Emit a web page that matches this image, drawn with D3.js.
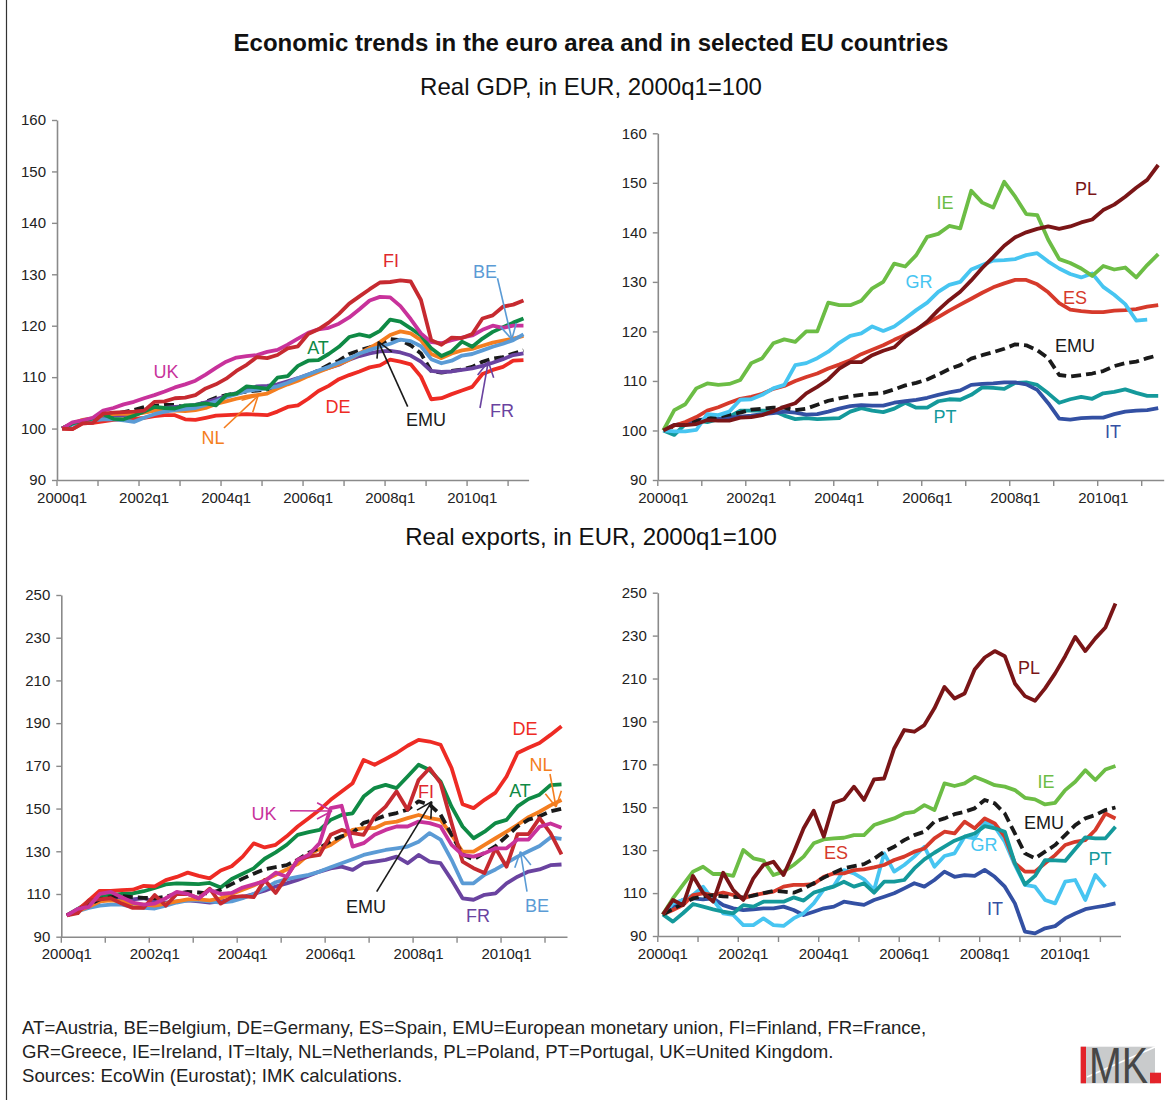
<!DOCTYPE html>
<html><head><meta charset="utf-8">
<script src="https://cdn.jsdelivr.net/npm/d3@7"></script>
<style>body{margin:0;background:#fff}svg text{font-family:"Liberation Sans",Arial,sans-serif}</style>
</head><body><svg id="c" width="1171" height="1100"></svg>
<script>
const quarters = ["2000q1","2000q2","2000q3","2000q4","2001q1","2001q2","2001q3","2001q4","2002q1","2002q2","2002q3","2002q4","2003q1","2003q2","2003q3","2003q4","2004q1","2004q2","2004q3","2004q4","2005q1","2005q2","2005q3","2005q4","2006q1","2006q2","2006q3","2006q4","2007q1","2007q2","2007q3","2007q4","2008q1","2008q2","2008q3","2008q4","2009q1","2009q2","2009q3","2009q4","2010q1","2010q2","2010q3","2010q4","2011q1","2011q2"];
const xTickLabels = ["2000q1","2002q1","2004q1","2006q1","2008q1","2010q1"];
const gdpTicks = [90,100,110,120,130,140,150,160];
const expTicks = [90,110,130,150,170,190,210,230,250];

// Real GDP, 2000q1=100
const gdpFI = [100,99.9,101,101.1, 102.9,103.1,103.2,103.3, 103.5,105.2,105.3,105.9, 106,106.5,107.8,108.6, 109.7,111.2,112.4,113.9, 113.7,114.3,115.6,116, 118.4,119.3,120.6,122.3, 124.3,125.7,127.1,128.4, 128.5,128.8,128.6,125, 117.2,116.3,117.7,117.6, 118.4,121.4,122,123.7, 124.1,124.9];
const gdpUK = [100,101.2,101.6,102.1, 103.5,104,104.7,105.2, 105.9,106.5,107.2,108, 108.6,109.3,110.5,111.8, 113,113.8,114.1,114.3, 114.9,115.3,116.3,117.5, 118.6,119.3,119.6,120.4, 121.6,123.2,124.9,125.6, 125.5,123.8,121.3,118.5, 116.8,116.6,117.2,117.7, 118.1,119.2,120,119.6, 120,120];
const gdpAT = [100,101,101.5,102, 102.8,101.9,101.8,102.5, 103.3,104.2,104,103.9, 104.5,104.6,104.9,104.5, 106.5,106.8,108.2,108, 107.7,109.9,110.2,112.2, 113.2,113.3,114.5,115.9, 117.8,118.3,117.9,119, 121.2,120.8,119.5,118.1, 115.6,114.1,115,116.9, 115.9,117.5,118.8,119.7, 120.6,121.4];
const gdpNL = [100,101,101.7,102, 102.6,102.8,102.9,102.8, 103.1,103.5,103.6,103.5, 103.4,103.6,104,104.8, 105.3,105.8,106.2,106.5, 106.8,107.8,108.6,109.3, 110.2,111,111.8,112.5, 113.4,114.6,115.7,116.8, 118.2,118.9,118.5,117.2, 114.5,113.7,114.6,115.2, 115.5,116.1,116.7,117.1, 117.5,118];
const gdpBE = [100,100.8,101.3,101.6, 101.8,101.8,101.6,101.3, 102.1,102.8,103.3,103.6, 103.8,104,104.6,105.3, 106.1,106.7,107.3,107.6, 107.8,108.2,108.9,109.8, 110.5,111.3,112,112.8, 113.6,114.6,115.3,115.9, 116.5,117.3,117,116, 113.5,112.7,113.2,114.2, 114.5,115.2,115.9,116.5, 117.2,118.3];
const gdpEMU = [100,100.9,101.4,101.9, 102.4,102.8,103.2,103.6, 104.2,104.4,104.6,104.6, 104.1,104.4,105.2,106, 106.5,106.9,107.2,107.4, 107.6,108.3,109.1,109.6, 110.3,111.3,112.4,113.2, 114.5,115.2,115.8,116.5, 117.4,117.2,116.2,114.6, 111.2,110.9,111.2,111.5, 112,113,113.6,113.9, 114.6,115.2];
const gdpFR = [100,100.9,101.4,101.8, 102.3,102.5,102.6,102.7, 103.2,103.6,104,104.2, 104.3,104.6,105.1,105.7, 106.3,106.9,107.6,108.2, 108.3,108.6,109.2,109.8, 110.5,111.2,111.8,112.4, 113.4,114.1,114.6,115, 115.1,114.8,114.2,113, 111.2,111,111.1,111.4, 111.7,112.2,112.8,113.5, 114.3,114.6];
const gdpDE = [100,99.9,101,101.1, 101.4,101.7,101.8,101.9, 102.1,102.4,102.6,102.6, 101.8,101.7,102.1,102.5, 102.6,102.7,102.8,102.7, 102.6,103.3,104.2,104.5, 105.8,107.3,108.3,109.6, 110.4,111.1,111.9,112.3, 113.4,113,112.5,110.1, 105.7,105.9,106.7,107.4, 108.1,110.6,111.4,112, 113.2,113.3];
const gdpIE = [100,104.1,105.3,108.5, 109.5,109.2,109.4,110.2, 113.6,114.6,117.6,118.4, 117.9,120,120,125.8, 125.3,125.3,126.2,128.7, 130,133.7,133.1,135.4, 139.1,139.7,141.3,140.8, 148.4,146,145,150.2, 147.2,143.7,143.5,138.5, 134.6,133.8,132.7,131.2, 133.2,132.5,132.9,130.9, 133.4,135.6];
const gdpPL = [100,101.1,101.1,101.3, 102.1,102,102,102.6, 102.7,103.1,103.9,104.8, 105.5,107.5,108.8,110.3, 112.5,113.8,113.8,115.2, 116.1,116.8,118.9,120.3, 122,124.3,126.3,128, 130.3,132.8,135,137.3, 139,140,140.7,141.2, 140.7,141.2,142,142.6, 144.5,145.6,147.2,149, 150.6,153.6];
const gdpGR = [100,99.8,99.8,100.1, 103.3,103.1,103.8,106.2, 106.3,107.2,108.5,109.2, 113.2,113.6,114.6,115.9, 117.7,119.1,119.6,121, 120.1,121,122.6,124.3, 125.8,128,129.4,130, 132.5,133.4,134.3,134.4, 134.6,135.4,135.8,134.1, 132.7,131.6,130.9,131.7, 129,127.4,125.5,122.2, 122.4,null];
const gdpES = [100,101,101.7,102.7, 104,104.7,105.6,106.4, 106.8,107.4,108.4,109, 110,110.8,111.5,112.5, 113.3,114.2,115.4,116.3, 117.2,118.3,119.3,120.4, 121.7,122.9,124.2,125.4, 126.6,127.8,128.9,129.7, 130.4,130.4,129.5,127.9, 125.7,124.4,124.1,123.9, 123.9,124.2,124.3,124.5, 125,125.3];
const gdpIT = [100,101.1,101.5,102.1, 102.3,102.3,102.6,102.8, 103,103.3,103.5,103.8, 103.6,103.2,103.3,103.8, 104.4,104.9,105.1,105, 105,105.6,105.9,106.2, 106.6,107.2,107.7,108.1, 109.2,109.4,109.5,109.7, 109.7,109.3,108.2,105.5, 102.4,102.2,102.5,102.6, 102.6,103.3,103.8,104, 104.1,104.5];
const gdpPT = [100,99.1,101.3,102, 101.7,102.3,102.8,104, 104,104,104,103, 102.3,102.5,102.3,102.4, 102.5,103.8,104.5,104, 103.7,104.4,105.6,104.6, 104.6,105.9,106.3,106.2, 107.2,108.7,108.6,108.4, 109.6,109.7,109.2,107.5, 105.6,106.3,106.8,106.4, 107.5,107.8,108.3,107.6, 107,107];

// Real exports, 2000q1=100
const expDE = [100,102.5,107,111.5, 111.5,111.8,112,113.8, 113.6,116.5,118,120, 118.5,117.3,121,123, 127.5,133.7,131.8,133, 137,141.6,145.5,149.4, 154.1,158,161.9,172.8, 170.5,173.2,176,179.4, 182.2,181.4,179.9,169, 152,150.2,154.1,157.5, 165,176,178.5,180.7, 184.5,188.5];
const expAT = [100,103,106,108.5, 109.5,110,110.3,111.3, 112.8,114.5,115,114.8, 114.6,115.2,113,117, 119.5,122,126.5,129.5, 133,137.7,139,140, 144.7,147,147.8,155.6, 159.6,161.1,159.6,165, 170.5,168.1,162.7,150.9, 141.6,136.1,139.2,143.2, 144.7,151,154.5,156.5, 161,161.3];
const expNL = [100,102,104,106.5, 107,106.5,105.5,105, 104.5,105.5,106.5,107.5, 107.5,107,108,110, 112,114,116.5,119, 121.5,124,128.5,131, 133,136.5,140,140.8, 140.8,143.2,143.9,145.5, 147,145.5,144.7,137.7, 129.8,129.8,133,136.1, 139.2,142.4,146,148.5, 151.5,154];
const expFI = [100,101,107,107.5, 108,105.5,103.5,103.5, 109.5,104.5,110,110, 108,112.5,105.5,108.5, 109,108.5,116.5,110.5, 118.1,126,127.5,128.3, 137.7,140,138.5,137.7, 146.3,150.9,158,149.4, 163.4,168.9,161.9,143.2, 125.2,122.1,119.8,131.4, 122.8,138,138,145.5, 138.5,128.5];
const expUK = [100,103,104,110, 111,108.5,106,105, 105.5,108,111,110, 108,112,110,110.5, 113,114.5,116,120, 118.1,126,128.3,133.8, 150.2,151.3,132.2,133.8, 137.7,140,141.6,141.6, 143.9,143.2,141.6,133, 128.3,127.5,129.1,131.4, 131.4,135.5,135.5,141.5, 143,141];
const expEMU = [100,102.6,105,107.5, 108.5,109,108.5,108.2, 108,108.8,110,111, 110.7,110.2,112,114.6, 117.2,119.5,121.6,122.6, 123.5,126,129.3,131.6, 134.7,137,138.6,143.3, 144.8,146.8,147.9,149.5, 153.4,151.8,147.1,137.8, 128.5,126.2,129.3,132.4, 137,141.7,144.8,146.4, 148.7,149.9];
const expBE = [100,102,103.5,104.5, 105,105,104,103.5, 103.2,104.5,106,107, 107,106.5,106,106.5, 108,110,112.5,115.5, 117,118,119,120.5, 122.5,124.4,126.3,128.3, 129.5,130.6,131.4,132.2, 134.5,138.5,135.5,126, 115,115,119,121.5, 124.5,127.5,130,132.5, 136.5,135.8];
const expFR = [100,102.5,104,106.5, 108,108,107.5,108, 106.5,106,106.5,107, 106.5,106,106.5,107.5, 108.5,110,111.5,113.5, 115,116.6,118.5,120.5, 122,122.8,121.3,124.4, 125.2,126,127.5,124.4, 128.3,125.2,124.4,116.6, 108,107.3,109.6,110.3, 115,118.1,120.5,121.5, 123.5,123.8];
const expPL = [100,106.8,104.4,118, 110.2,106,119.5,111.4, 106.8,116.9,123.1,124.6, 118.4,128.8,140.2,148.4, 136.3,152.1,153.7,159.6, 153.4,163,163.4,177.4, 186,185.2,188.3,196.1, 206.1,200.7,203,214.2, 219.8,222.8,220.4,207.7, 201.8,199.6,205.4,212.4, 220.4,229.4,222.8,228.7, 233.8,245];
const expIE = [100,107.5,113.8,120, 122.3,118.9,118.9,118, 130.1,126.2,125.1,118.4, 120,123.1,127,133.2, 135,135.5,135.8,137, 137,141.7,143.3,144.8, 147.1,147.9,151,148.7, 161.1,159.9,161.1,164.2, 162.4,160.3,159.6,158, 154.4,153.7,151.3,152.1, 158,161.9,167.3,162.7, 167.6,169.2];
const expES = [100,102.1,104.4,109.1, 109.9,109.1,110.2,109.1, 107.5,109.1,109.9,110.7, 113,113.8,113.8,114.2, 117.6,119.2,119.2,120.7, 121.1,122,123.1,125.4, 127,129.3,130.8,135.5, 138.6,137.8,143.3,140.2, 144.8,142.5,136.3,123.9, 120,120,123.9,127.7, 132.4,133.9,134.7,139.4, 147.1,144.8];
const expGR = [100,105.2,106.8,109.1, 113,106.8,100.6,99.8, 95.1,95.1,98.2,95.1, 94.7,98.2,100.6,105.2, 111.7,113.3,120.7,119.2, 116.4,111.4,128.5,120, 123.1,127,131.6,122.3, 127.3,128.5,136.3,135.5, 143.3,140.9,133.9,123.1, 113.8,113,106.8,105.2, 115.3,116.1,106.8,118.4, 113,null];
const expPT = [100,96.7,100.6,104.9, 103.7,102.4,101.3,100.6, 104.4,103.7,106,106, 106,108,106.5,110.2, 111.7,113,115.3,113, 114.5,110.2,115.3,115.3, 116.1,121.5,125.7,128.8, 131.6,134.4,136.3,137.8, 141.2,140.2,138.6,123.9, 114,118,125.4,125.2, 125,130.5,136,135.5, 135.5,140.9];
const expIT = [100,103.7,106.8,107.5, 107.1,107.5,104.4,102.9, 102.1,102.4,102.9,102.9, 103.7,102.1,99.8,101.3, 102.9,103.7,106,105.2, 104.5,106.8,108.3,109.9, 112.2,114.6,113,116.1, 120,117.6,118.4,118, 120.8,117.6,113,105.2, 92,91.2,93.6,94.6, 98.2,100.5,102.5,103.4, 104.2,105.2];

const col = {FI:"#C62A30",DE:"#EE2B24",UK:"#C8329B",AT:"#0F8A45",NL:"#F47E20",BE:"#5B9BD5",FR:"#6A43A0",EMU:"#1A1A1A",
             IE:"#6CBD45",PL:"#7A1517",GR:"#47C5F1",ES:"#D63A2B",IT:"#3350A3",PT:"#14999B"};
const labCol = Object.assign({}, col, {FI:"#E0282D"});

const svg = d3.select("#c");
svg.append("rect").attr("width",1171).attr("height",1100).attr("fill","#fff");
svg.append("line").attr("x1",6.5).attr("x2",6.5).attr("y1",0).attr("y2",1100).attr("stroke","#333").attr("stroke-width",1.2);

svg.append("text").attr("x",591).attr("y",51).attr("text-anchor","middle").attr("font-size",24).attr("font-weight","bold").attr("fill","#111")
  .text("Economic trends in the euro area and in selected EU countries");
svg.append("text").attr("x",591).attr("y",95).attr("text-anchor","middle").attr("font-size",24).attr("fill","#111")
  .text("Real GDP, in EUR, 2000q1=100");
svg.append("text").attr("x",591).attr("y",545).attr("text-anchor","middle").attr("font-size",24).attr("fill","#111")
  .text("Real exports, in EUR, 2000q1=100");

function arrow(g, x1, y1, x2, y2, c) {
  g.append("line").attr("x1",x1).attr("y1",y1).attr("x2",x2).attr("y2",y2).attr("stroke",c).attr("stroke-width",1.6);
  const a = Math.atan2(y1 - y2, x1 - x2), L = 17, h = 0.5;
  [a - h, a + h].forEach(b => g.append("line").attr("x1",x2).attr("y1",y2)
    .attr("x2",x2 + L*Math.cos(b)).attr("y2",y2 + L*Math.sin(b)).attr("stroke",c).attr("stroke-width",1.6));
}

function panel(cfg) {
  const g = svg.append("g");
  const x = d3.scaleBand().domain(quarters).range([cfg.x0, cfg.x1]);
  const y = d3.scaleLinear().domain([cfg.ymin, cfg.ymax]).range([cfg.yb, cfg.yt]);
  const ya = g.append("g").attr("transform",`translate(${cfg.x0},0)`)
    .call(d3.axisLeft(y).tickValues(cfg.ticks).tickSize(5).tickSizeOuter(0).tickPadding(6));
  const xa = g.append("g").attr("transform",`translate(0,${cfg.yb})`)
    .call(d3.axisBottom(x).tickValues(xTickLabels).tickSize(0).tickPadding(12));
  [ya, xa].forEach(a => {
    a.select(".domain").attr("stroke","#8a8a8a").attr("stroke-width",1.6);
    a.selectAll(".tick line").attr("stroke","#8a8a8a").attr("stroke-width",1.4);
    a.selectAll("text").attr("font-size",15).attr("fill","#222").attr("font-family","Liberation Sans, Arial, sans-serif");
  });
  quarters.forEach((q, i) => { if (i % 4 === 0) {
    xa.append("line").attr("x1",x(q)).attr("x2",x(q)).attr("y1",0).attr("y2",6).attr("stroke","#8a8a8a").attr("stroke-width",1.4);
  }});
  const line = d3.line().defined(d => d != null)
    .x((d, i) => x(quarters[i]) + x.bandwidth()/2).y(d => y(d)).curve(d3.curveLinear);
  cfg.series.forEach(([k, data]) => {
    const p = g.append("path").datum(data).attr("d", line).attr("fill","none")
      .attr("stroke", col[k]).attr("stroke-width", 3.8).attr("stroke-linejoin","round");
    if (k === "EMU") p.attr("stroke-dasharray","10,5").attr("stroke-width",3.8);
  });
  (cfg.arrows || []).forEach(([k, x1, y1, x2, y2]) => arrow(g, x1, y1, x2, y2, col[k]));
  cfg.labels.forEach(([k, lx, ly]) => g.append("text").attr("x",lx).attr("y",ly).attr("dy","0.35em")
    .attr("text-anchor","middle").attr("font-size",18).attr("fill",labCol[k]).text(k));
}

panel({x0:57, x1:528.6, yt:120, yb:480, ymin:90, ymax:160, ticks:gdpTicks,
  series:[["EMU",gdpEMU],["DE",gdpDE],["FR",gdpFR],["NL",gdpNL],["BE",gdpBE],["AT",gdpAT],["UK",gdpUK],["FI",gdpFI]],
  arrows:[["NL",224,428,258,396],["EMU",407.7,406.7,378.3,341.7],["FR",480,408,488.3,361.7],["BE",497.5,278.3,511.8,339.3]],
  labels:[["FI",391,261],["BE",485,272],["UK",166,372],["AT",318,348],["DE",338,407],["EMU",426,420],["NL",213,438],["FR",502,411]]});

panel({x0:657.8, x1:1163.7, yt:133.3, yb:480, ymin:90, ymax:160, ticks:gdpTicks,
  series:[["PT",gdpPT],["IT",gdpIT],["EMU",gdpEMU],["ES",gdpES],["GR",gdpGR],["IE",gdpIE],["PL",gdpPL]],
  labels:[["IE",945,203],["PL",1086,189],["GR",919,282],["ES",1075,298],["EMU",1075,346],["PT",945,417],["IT",1113,432]]});

panel({x0:61.3, x1:567, yt:595, yb:936.7, ymin:90, ymax:250, ticks:expTicks,
  series:[["FR",expFR],["BE",expBE],["NL",expNL],["AT",expAT],["DE",expDE],["EMU",expEMU],["FI",expFI],["UK",expUK]],
  arrows:[["UK",290,810.7,332,811],["EMU",376.7,891.7,431.7,801.7],["NL",550,774,556,807],["BE",527,891.7,520.4,851.7]],
  labels:[["DE",525,729],["NL",541,765],["AT",520,791],["FI",426,792],["UK",264,814],["EMU",366,907],["FR",478,916],["BE",537,906]]});

panel({x0:657.8, x1:1120.5, yt:592.7, yb:936, ymin:90, ymax:250, ticks:expTicks,
  series:[["IT",expIT],["GR",expGR],["ES",expES],["PT",expPT],["EMU",expEMU],["IE",expIE],["PL",expPL]],
  labels:[["PL",1029,668],["IE",1046,782],["EMU",1044,823],["ES",836,853],["GR",984,845],["PT",1100,859],["IT",995,909]]});

// footnote
const notes = ["AT=Austria, BE=Belgium, DE=Germany, ES=Spain, EMU=European monetary union, FI=Finland, FR=France,",
               "GR=Greece, IE=Ireland, IT=Italy, NL=Netherlands, PL=Poland, PT=Portugal, UK=United Kingdom.",
               "Sources: EcoWin (Eurostat); IMK calculations."];
notes.forEach((t, i) => svg.append("text").attr("x",22).attr("y",1034 + i*24).attr("font-size",18.6).attr("fill","#222").text(t));

// IMK logo
const lg = svg.append("g");
lg.append("rect").attr("x",1080.7).attr("y",1046.7).attr("width",74.3).attr("height",36.6).attr("fill","#C9CBCC");
lg.append("line").attr("x1",1087).attr("y1",1077).attr("x2",1155).attr("y2",1047).attr("stroke","#fff").attr("stroke-width",1.5);
lg.append("rect").attr("x",1080.7).attr("y",1046.7).attr("width",5.3).attr("height",36.6).attr("fill","#E3232A");
lg.append("text").attr("x",1089).attr("y",1083).attr("font-size",50).attr("fill","#474747")
  .attr("textLength",59).attr("lengthAdjust","spacingAndGlyphs").text("MK");
lg.append("rect").attr("x",1150).attr("y",1072.7).attr("width",11).attr("height",10.6).attr("fill","#E3232A");
</script></body></html>
